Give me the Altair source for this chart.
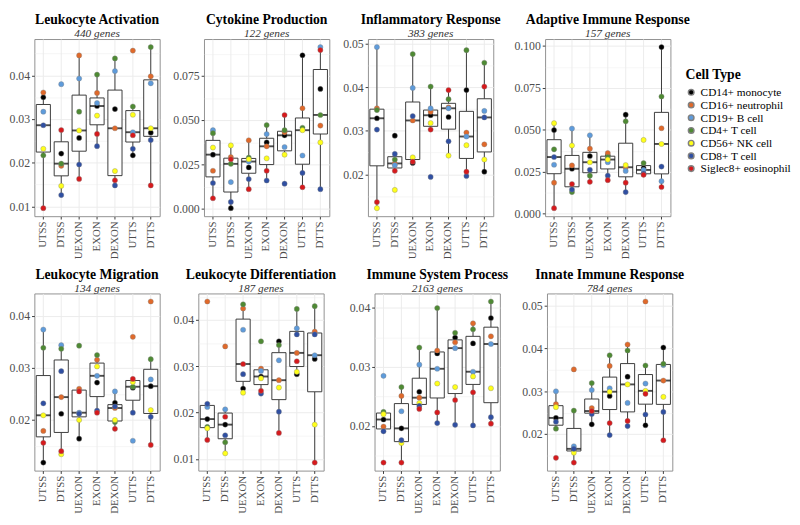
import math
import altair as alt
import pandas as pd

REGIONS = ["UTSS", "DTSS", "UEXON", "EXON", "DEXON", "UTTS", "DTTS"]
CELL_TYPES = ["CD14+ monocyte", "CD16+ neutrophil", "CD19+ B cell", "CD4+ T cell",
              "CD56+ NK cell", "CD8+ T cell", "Siglec8+ eosinophil"]
CELL_COLORS = ["#000000", "#E0692A", "#5E9BDB", "#4E8A33", "#FFFF1A", "#2F4FA2", "#D7191C"]

# values per region, in CELL_TYPES order
leukocyte_activation = {
    "UTSS": [0.0350, 0.0361, 0.0317, 0.0217, 0.0232, 0.0286, 0.0096],
    "DTSS": [0.0221, 0.0193, 0.0380, 0.0198, 0.0147, 0.0126, 0.0275],
    "UEXON": [0.0257, 0.0446, 0.0393, 0.0317, 0.0274, 0.0196, 0.0163],
    "EXON": [0.0330, 0.0360, 0.0337, 0.0402, 0.0308, 0.0238, 0.0266],
    "DEXON": [0.0323, 0.0279, 0.0410, 0.0439, 0.0181, 0.0148, 0.0160],
    "UTTS": [0.0217, 0.0457, 0.0270, 0.0329, 0.0310, 0.0232, 0.0263],
    "DTTS": [0.0269, 0.0398, 0.0382, 0.0465, 0.0279, 0.0252, 0.0148],
}
cytokine_production = {
    "UTSS": [0.0305, 0.0214, 0.0443, 0.0426, 0.0345, 0.0145, 0.0059],
    "DTSS": [0.0003, 0.0291, 0.0150, 0.0253, 0.0357, 0.0038, 0.0279],
    "UEXON": [0.0233, 0.0386, 0.0266, 0.0288, 0.0279, 0.0167, 0.0110],
    "EXON": [0.0374, 0.0352, 0.0421, 0.0472, 0.0284, 0.0159, 0.0214],
    "DEXON": [0.0414, 0.0431, 0.0348, 0.0443, 0.0305, 0.0141, 0.0529],
    "UTTS": [0.0866, 0.0567, 0.0300, 0.0457, 0.0443, 0.0202, 0.0121],
    "DTTS": [0.0676, 0.0469, 0.0912, 0.0529, 0.0374, 0.0110, 0.0895],
}
inflammatory_response = {
    "UTSS": [0.0329, 0.0352, 0.0493, 0.0348, 0.0122, 0.0303, 0.0136],
    "DTSS": [0.0289, 0.0225, 0.0221, 0.0234, 0.0164, 0.0247, 0.0208],
    "UEXON": [0.0226, 0.0324, 0.0399, 0.0477, 0.0239, 0.0334, 0.0229],
    "EXON": [0.0336, 0.0344, 0.0352, 0.0402, 0.0318, 0.0194, 0.0303],
    "DEXON": [0.0332, 0.0354, 0.0352, 0.0373, 0.0243, 0.0276, 0.0394],
    "UTTS": [0.0394, 0.0296, 0.0287, 0.0486, 0.0267, 0.0196, 0.0206],
    "DTTS": [0.0206, 0.0269, 0.0346, 0.0457, 0.0234, 0.0331, 0.0402],
}
adaptive_immune_response = {
    "UTSS": [0.0499, 0.0185, 0.0292, 0.0384, 0.0540, 0.0338, 0.0033],
    "DTSS": [0.0268, 0.0288, 0.0508, 0.0129, 0.0407, 0.0144, 0.0177],
    "UEXON": [0.0344, 0.0388, 0.0468, 0.0227, 0.0307, 0.0262, 0.0190],
    "EXON": [0.0348, 0.0362, 0.0307, 0.0338, 0.0323, 0.0227, 0.0200],
    "DEXON": [0.0591, 0.0277, 0.0255, 0.0551, 0.0290, 0.0129, 0.0185],
    "UTTS": [0.0272, 0.0236, 0.0261, 0.0302, 0.0440, 0.0240, 0.0232],
    "DTTS": [0.0994, 0.0510, 0.0194, 0.0699, 0.0416, 0.0281, 0.0159],
}
leukocyte_migration = {
    "UTSS": [0.0118, 0.0179, 0.0374, 0.0339, 0.0209, 0.0232, 0.0156],
    "DTSS": [0.0212, 0.0244, 0.0344, 0.0337, 0.0134, 0.0294, 0.0140],
    "UEXON": [0.0164, 0.0260, 0.0214, 0.0343, 0.0200, 0.0212, 0.0255],
    "EXON": [0.0272, 0.0316, 0.0285, 0.0325, 0.0303, 0.0218, 0.0214],
    "DEXON": [0.0233, 0.0223, 0.0255, 0.0196, 0.0200, 0.0226, 0.0183],
    "UTTS": [0.0262, 0.0360, 0.0160, 0.0264, 0.0273, 0.0214, 0.0279],
    "DTTS": [0.0265, 0.0428, 0.0278, 0.0317, 0.0219, 0.0206, 0.0152],
}
leukocyte_differentiation = {
    "UTSS": [0.0186, 0.0440, 0.0212, 0.0169, 0.0166, 0.0219, 0.0141],
    "DTSS": [0.0174, 0.0343, 0.0207, 0.0136, 0.0112, 0.0151, 0.0191],
    "UEXON": [0.0252, 0.0425, 0.0379, 0.0434, 0.0243, 0.0283, 0.0305],
    "EXON": [0.0278, 0.0295, 0.0290, 0.0354, 0.0274, 0.0241, 0.0247],
    "DEXON": [0.0354, 0.0270, 0.0313, 0.0346, 0.0254, 0.0202, 0.0156],
    "UTTS": [0.0283, 0.0329, 0.0382, 0.0424, 0.0288, 0.0369, 0.0311],
    "DTTS": [0.0316, 0.0375, 0.0324, 0.0430, 0.0174, 0.0369, 0.0092],
}
immune_system_process = {
    "UTSS": [0.0211, 0.0199, 0.0285, 0.0224, 0.0220, 0.0191, 0.0138],
    "DTSS": [0.0196, 0.0251, 0.0225, 0.0266, 0.0171, 0.0176, 0.0138],
    "UEXON": [0.0258, 0.0248, 0.0304, 0.0333, 0.0239, 0.0234, 0.0229],
    "EXON": [0.0323, 0.0328, 0.0297, 0.0400, 0.0272, 0.0205, 0.0223],
    "DEXON": [0.0350, 0.0342, 0.0332, 0.0358, 0.0266, 0.0202, 0.0244],
    "UTTS": [0.0340, 0.0374, 0.0292, 0.0364, 0.0284, 0.0201, 0.0257],
    "DTTS": [0.0383, 0.0352, 0.0339, 0.0411, 0.0264, 0.0215, 0.0204],
}
innate_immune_response = {
    "UTSS": [0.0238, 0.0270, 0.0300, 0.0213, 0.0263, 0.0229, 0.0145],
    "DTSS": [0.0165, 0.0351, 0.0172, 0.0255, 0.0157, 0.0166, 0.0134],
    "UEXON": [0.0223, 0.0261, 0.0303, 0.0319, 0.0251, 0.0247, 0.0254],
    "EXON": [0.0289, 0.0359, 0.0307, 0.0384, 0.0299, 0.0198, 0.0226],
    "DEXON": [0.0334, 0.0409, 0.0273, 0.0395, 0.0316, 0.0219, 0.0231],
    "UTTS": [0.0221, 0.0509, 0.0318, 0.0360, 0.0301, 0.0246, 0.0294],
    "DTTS": [0.0402, 0.0325, 0.0361, 0.0364, 0.0287, 0.0252, 0.0186],
}

ticks_activation = [0.01, 0.02, 0.03, 0.04]
ticks_cytokine = [0.0, 0.025, 0.05, 0.075]
ticks_inflammatory = [0.02, 0.03, 0.04, 0.05]
ticks_adaptive = [0.0, 0.025, 0.05, 0.075, 0.1]
ticks_migration = [0.02, 0.03, 0.04]
ticks_differentiation = [0.01, 0.02, 0.03, 0.04]
ticks_immune = [0.02, 0.03, 0.04]
ticks_innate = [0.02, 0.03, 0.04, 0.05]

PANELS = [
    ("Leukocyte Activation", "440 genes", leukocyte_activation, ticks_activation, ".2f"),
    ("Cytokine Production", "122 genes", cytokine_production, ticks_cytokine, ".3f"),
    ("Inflammatory Response", "383 genes", inflammatory_response, ticks_inflammatory, ".2f"),
    ("Adaptive Immune Response", "157 genes", adaptive_immune_response, ticks_adaptive, ".3f"),
    ("Leukocyte Migration", "134 genes", leukocyte_migration, ticks_migration, ".2f"),
    ("Leukocyte Differentiation", "187 genes", leukocyte_differentiation, ticks_differentiation, ".2f"),
    ("Immune System Process", "2163 genes", immune_system_process, ticks_immune, ".2f"),
    ("Innate Immune Response", "784 genes", innate_immune_response, ticks_innate, ".2f"),
]

FONT = "Liberation Serif"
W, H = 133, 188


def make_panel(title, genes, data, ticks, fmt, show_legend, title_offset):
    rows = [{"region": r, "cell": c, "value": v}
            for r in REGIONS for c, v in zip(CELL_TYPES, data[r])]
    df = pd.DataFrame(rows)
    lo, hi = df["value"].min(), df["value"].max()
    pad = 0.05 * (hi - lo)
    dom = [lo - pad, hi + pad]
    step = ticks[1] - ticks[0]
    half = step / 2
    k0 = math.ceil(dom[0] / half - 1e-9)
    k1 = math.floor(dom[1] / half + 1e-9)
    gridvals = [round(k * half, 6) for k in range(k0, k1 + 1)]
    major = f"abs(datum.value/{step} - round(datum.value/{step})) < 0.01"
    yaxis = alt.Axis(
        values=gridvals,
        labelExpr=f"({major}) ? format(datum.value, '{fmt}') : ''",
        tickOpacity={"condition": {"test": f"!({major})", "value": 0}, "value": 1},
        gridWidth={"condition": {"test": f"!({major})", "value": 0.5}, "value": 1},
        title=None,
    )
    y = alt.Y("value:Q", scale=alt.Scale(domain=dom, nice=False, zero=False), axis=yaxis)
    x = alt.X("region:N", sort=REGIONS,
              axis=alt.Axis(title=None, labelAngle=270, grid=True))
    if show_legend:
        legend = alt.Legend(title="Cell Type", orient="none", legendX=W + 16, legendY=31)
    else:
        legend = None
    base = alt.Chart(df)
    box = base.mark_boxplot(
        extent=1.5, outliers=False, size=15,
        box={"color": "white", "stroke": "#333333", "strokeWidth": 1},
        median={"color": "black", "thickness": 2},
        rule={"color": "#333333", "strokeWidth": 1},
        ticks=False,
    ).encode(x=x, y=y)
    pts = base.mark_circle(size=30, opacity=1, stroke="#808080", strokeWidth=0.4).encode(
        x=x, y=y,
        color=alt.Color("cell:N", scale=alt.Scale(domain=CELL_TYPES, range=CELL_COLORS),
                        legend=legend),
    )
    return alt.layer(box, pts).properties(
        width=W, height=H,
        title=alt.TitleParams(text=title, subtitle=genes, anchor="middle", frame="group",
                              font=FONT, fontSize=14.5, fontWeight="bold",
                              subtitleFont=FONT, subtitleFontSize=12,
                              subtitleFontStyle="italic", subtitleColor="#333333",
                              offset=title_offset, subtitlePadding=1),
    )


def build(title_offset, padding):
    panels = [make_panel(*p, show_legend=(i == 3), title_offset=title_offset)
              for i, p in enumerate(PANELS)]
    row1 = alt.hconcat(*panels[:4], spacing=12).resolve_legend(color="independent")
    row2 = alt.hconcat(*panels[4:], spacing=12).resolve_legend(color="independent")
    return alt.vconcat(row1, row2, spacing=8).resolve_legend(color="independent").properties(
        padding=padding
    ).configure_view(
        stroke="#8C8C8C", strokeWidth=1
    ).configure_axis(
        labelFont=FONT, labelFontSize=12.5, labelColor="#4D4D4D",
        gridColor="#EBEBEB", domain=False, tickColor="#333333", tickSize=3,
        labelPadding=2,
    ).configure_axisX(labelFontSize=11.5).configure_legend(
        titleFont=FONT, titleFontSize=14.5, titleFontWeight="bold", titleColor="black",
        labelFont=FONT, labelFontSize=12, labelColor="black",
        symbolType="circle", symbolSize=36, rowPadding=1.5,
    )


try:
    chart = build(-1, {"left": 0, "top": -12, "right": 0, "bottom": 0})
    chart.to_dict()
except Exception:
    chart = build(2, 0)

chart.save("out.html", embed_options={"renderer": "svg", "actions": False})
